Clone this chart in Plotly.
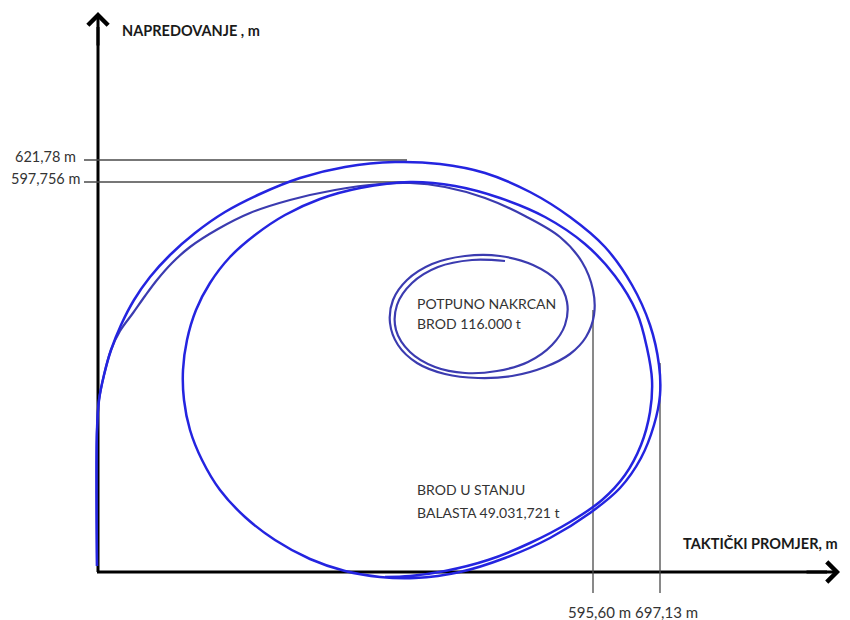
import plotly.graph_objects as go

# Drawing units: 1 unit ~ 1 px of the sketch, origin at the axes crossing
# Ship in ballast (49.031,721 t) - two turns
ballast_x = [0, 0, 2, 7, 14, 24, 37, 53, 73, 98, 128, 163, 203, 248, 298, 343, 388, 433, 473,
             508, 535, 553, 562, 563, 557, 544, 523, 493, 453, 408, 363, 318, 283, 248, 213,
             178, 148, 123, 105, 93, 87, 86, 90, 99, 113, 133, 158, 188, 223, 263, 313, 358,
             403, 448, 488, 518, 540, 550, 555, 553, 544, 528, 505, 473, 433, 391, 348, 313, 288]
ballast_y = [6, 142, 172, 197, 222, 247, 272, 295, 317, 339, 360, 378, 394, 405, 410, 408, 399,
             380, 355, 325, 287, 247, 207, 177, 147, 114, 84, 59, 34, 14, 0, -6, -5, 1, 13, 32,
             55, 82, 112, 142, 172, 202, 232, 262, 289, 315, 337, 357, 373, 384, 390, 386, 374,
             355, 328, 296, 259, 224, 192, 160, 127, 97, 72, 50, 29, 12, 1, -4, -5]

# Fully loaded ship (116.000 t) - one turn, then spiralling in
loaded_x = [0, 0, 2, 7, 14, 23, 36, 48, 60, 75, 93, 121, 153, 193, 238, 283, 313, 348, 388,
            428, 463, 485, 496, 497, 489, 473, 448, 415, 381, 348, 320, 301, 293, 296, 310,
            335, 368, 403, 436, 460, 470, 468, 455, 431, 400, 368, 338, 313, 299, 300, 315,
            341, 375, 408]
loaded_y = [6, 142, 172, 197, 222, 241, 259, 276, 292, 309, 325, 343, 359, 372, 382, 388, 389,
            385, 374, 356, 335, 310, 282, 257, 235, 218, 205, 196, 194, 198, 209, 227, 249,
            272, 292, 308, 316, 316, 307, 291, 270, 247, 227, 210, 201, 199, 205, 220, 242,
            267, 289, 305, 312, 311]

# Reference dimensions: where the marker sits in the sketch, and its label
advance_pos = [412, 390]
advance_ends = [310, 315]
advance_labels = ["621,78 m", "597,756 m"]
diameter_pos = [496, 563]
diameter_tops = [262, 209]
diameter_labels = ["595,60 m", "697,13 m"]

# Captions inside the loops, one entry per text line
caption_lines = ["POTPUNO NAKRCAN", "BROD 116.000 t", "BROD U STANJU", "BALASTA 49.031,721 t"]
caption_y = [269, 249, 83, 60]

FONT = "Lato, 'Open Sans', sans-serif"

fig = go.Figure()

fig.add_trace(go.Scatter(
    x=loaded_x, y=loaded_y, mode="lines",
    line=dict(color="#3b3bb0", width=2.2, shape="spline", smoothing=1.0),
    hoverinfo="skip", showlegend=False
))
fig.add_trace(go.Scatter(
    x=ballast_x, y=ballast_y, mode="lines",
    line=dict(color="#2424e0", width=2.5, shape="spline", smoothing=1.0),
    hoverinfo="skip", showlegend=False
))

shapes = []
# axes (under the curves)
shapes.append(dict(type="line", x0=0, y0=0, x1=730, y1=0, layer="below",
                   line=dict(color="black", width=3)))
shapes.append(dict(type="line", x0=1, y0=0, x1=1, y1=545, layer="below",
                   line=dict(color="black", width=3)))
for y, xe in zip(advance_pos, advance_ends):
    shapes.append(dict(type="line", x0=-13, y0=y, x1=xe, y1=y, layer="below",
                       line=dict(color="#4a4a4a", width=1.3)))
for x, yt in zip(diameter_pos, diameter_tops):
    shapes.append(dict(type="line", x0=x, y0=yt, x1=x, y1=-21, layer="below",
                       line=dict(color="#4a4a4a", width=1.3)))

annotations = []
# arrow heads
annotations.append(dict(x=743, y=0, ax=708, ay=0, xref="x", yref="y", axref="x", ayref="y",
                        text="", showarrow=True, arrowhead=4, arrowsize=1.3,
                        arrowwidth=3, arrowcolor="black"))
annotations.append(dict(x=1, y=560, ax=1, ay=525, xref="x", yref="y", axref="x", ayref="y",
                        text="", showarrow=True, arrowhead=4, arrowsize=1.3,
                        arrowwidth=3, arrowcolor="black"))
# axis titles
annotations.append(dict(x=23, y=542, text="<b>NAPREDOVANJE , m</b>", showarrow=False,
                        xanchor="left", yanchor="middle",
                        font=dict(family=FONT, size=14.5, color="#1a1a1a")))
annotations.append(dict(x=743, y=29, text="<b>TAKTIČKI PROMJER, m</b>", showarrow=False,
                        xanchor="right", yanchor="middle",
                        font=dict(family=FONT, size=14.5, color="#1a1a1a")))
for y, lab in zip(advance_pos, advance_labels):
    annotations.append(dict(x=-52, y=y + 4, text=lab, showarrow=False,
                            xanchor="center", yanchor="middle",
                            font=dict(family=FONT, size=14.5, color="#333333")))
for x, lab in zip(diameter_pos, diameter_labels):
    annotations.append(dict(x=x + 6, y=-40, text=lab, showarrow=False,
                            xanchor="center", yanchor="middle",
                            font=dict(family=FONT, size=15, color="#333333")))
for y, lab in zip(caption_y, caption_lines):
    annotations.append(dict(x=318, y=y, text=lab, showarrow=False,
                            xanchor="left", yanchor="middle",
                            font=dict(family=FONT, size=14, color="#333333")))

# the page adds an 8 px body margin, so the figure is 8 px smaller than the window
fig.update_layout(
    width=842, height=612,
    margin=dict(l=0, r=0, t=0, b=0),
    paper_bgcolor="white", plot_bgcolor="white",
    shapes=shapes, annotations=annotations,
    xaxis=dict(range=[-89, 753], visible=False, fixedrange=True),
    yaxis=dict(range=[-48, 564], visible=False, fixedrange=True),
)

fig.write_html("out.html")
